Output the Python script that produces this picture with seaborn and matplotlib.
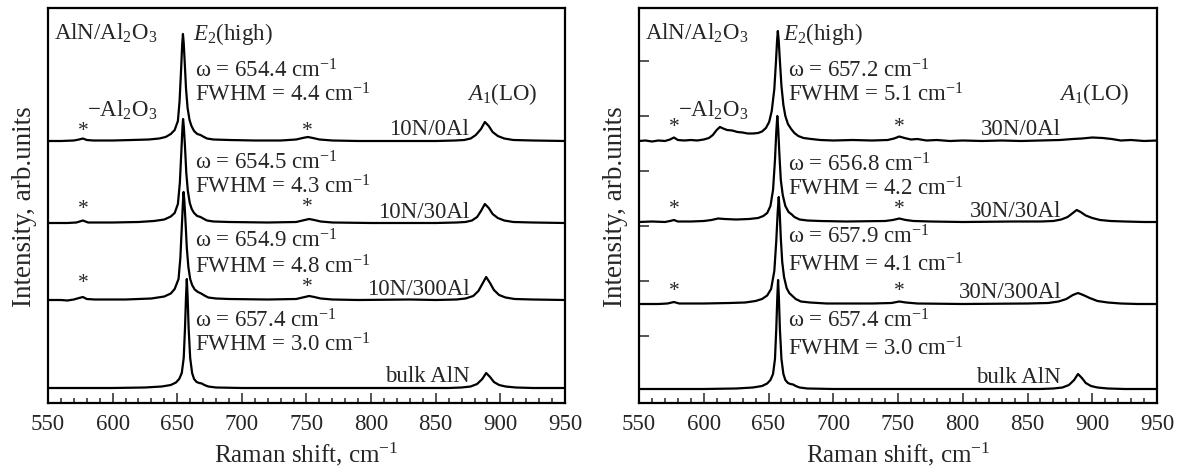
import matplotlib
matplotlib.use("Agg")
import matplotlib.pyplot as plt
import pandas as pd
import seaborn as sns
from matplotlib.ticker import MultipleLocator

# Raman spectra: (Raman shift cm^-1, intensity arb. units)
spec_10n_0al = [(550, 0), (560, 0), (570, 0.5), (574, 1.5), (577, 2.5), (580, 1), (585, 0.5),
                (600, 0.5), (615, 1), (628, 1.5), (636, 2.5), (641, 4), (645, 7), (648, 11),
                (650.5, 20), (651.8, 40), (653, 72), (653.8, 96), (654.4, 107), (655, 98),
                (655.8, 78), (656.8, 52), (658, 33), (659.5, 21), (661, 15), (663, 10),
                (665.5, 7), (668, 6), (670, 4.5), (673, 2.5), (678, 1.5), (690, 1), (710, 0.5),
                (730, 0.5), (742, 1.5), (747, 3), (751, 4), (755, 3), (760, 1.5), (770, 0.5),
                (790, 0), (820, 0), (850, 0), (865, 0.5), (872, 1), (877, 2.5), (881, 6),
                (885, 12), (888, 19), (891, 15), (894, 9), (898, 5), (903, 2.5), (910, 1),
                (925, 0.5), (950, 0)]
spec_10n_30al = [(550, 0), (565, 0), (572, 0.5), (577, 2.5), (581, 0.5), (600, 0.5), (620, 1),
                 (632, 2), (640, 3.5), (645, 6.5), (648, 10), (650.5, 19), (652, 40), (653.2, 72),
                 (654, 95), (654.5, 104), (655.1, 96), (656, 76), (657, 50), (658.2, 32),
                 (659.7, 20), (661.2, 14), (663, 10), (665.5, 7), (668, 6), (670, 4.5), (673, 2.5),
                 (678, 1.5), (690, 1), (720, 0.5), (742, 1), (747, 2.5), (752, 4), (756, 3),
                 (761, 1.5), (770, 0.5), (800, 0), (850, 0), (866, 0.5), (873, 1), (878, 2.5),
                 (882, 6), (885, 12), (888, 19), (891, 15), (894, 9), (898, 5), (903, 2.5),
                 (910, 1), (925, 0.5), (950, 0)]
spec_10n_300al = [(550, 0), (560, 0), (565, -0.5), (570, 0.5), (574, 2), (577, 3), (580, 1),
                  (586, 0.5), (610, 0.5), (630, 1.5), (640, 3.5), (645, 6.5), (648, 11), (651, 21),
                  (652.4, 42), (653.6, 75), (654.4, 98), (654.9, 108), (655.5, 99), (656.4, 78),
                  (657.4, 52), (658.6, 33), (660, 21), (661.5, 15), (663.5, 10.5), (666, 8),
                  (668.5, 6.5), (671, 4.5), (674, 2.5), (680, 1.5), (690, 1), (720, 0.5),
                  (742, 1), (747, 2.5), (752, 4), (756, 3), (761, 1.5), (770, 0.5), (790, 0),
                  (830, 0.5), (850, 0), (866, 0.5), (873, 1.5), (879, 4), (883, 9), (886, 16),
                  (889, 23), (892, 17), (895, 10), (899, 5), (904, 2.5), (911, 1), (925, 0.5),
                  (950, 0)]
spec_30n_0al = [(550, 0), (555, 0.5), (560, -0.5), (565, 0.5), (570, 0), (574, 1.5), (577, 3.5),
                (580, 1), (585, 0.5), (590, 1), (595, 0.5), (600, 1.5), (604, 3), (607, 6),
                (610, 11), (612.5, 14), (615, 12.5), (618, 11), (622, 10.5), (626, 9), (630, 8.5),
                (634, 7.5), (638, 7.5), (642, 8), (645, 9.5), (648, 13), (650.5, 19), (652.5, 30),
                (654.5, 52), (655.8, 80), (656.6, 100), (657.2, 110), (657.9, 100), (658.8, 80),
                (660, 55), (661.5, 36), (663, 25), (665, 17), (667.5, 12), (670, 8), (673, 5),
                (677, 3), (683, 2), (690, 1), (700, 0.5), (715, 1), (730, 0.5), (742, 1),
                (747, 2.5), (751, 4.5), (755, 3), (760, 1.5), (765, 2), (772, 0.5), (780, 1),
                (790, 0), (800, 0.5), (815, 0), (830, 0.5), (845, 0), (860, 0.5), (875, 1),
                (885, 2), (892, 2.5), (900, 3.5), (908, 3), (915, 2), (922, 0.5), (930, 1),
                (940, 0), (950, 0.5)]
spec_30n_30al = [(550, 0), (560, 0.5), (570, 0), (574, 1), (577, 2), (580, 0.5), (590, 0.5),
                 (600, 1), (606, 2), (611, 3.5), (616, 3), (625, 2.5), (635, 3), (642, 4),
                 (646, 6), (649, 9), (651.5, 16), (653.5, 32), (655, 62), (656, 90), (656.8, 106),
                 (657.5, 93), (658.4, 68), (659.5, 42), (661, 27), (663, 16), (665.5, 10),
                 (668, 7.5), (670, 5), (674, 2.5), (680, 1.5), (690, 1), (710, 0.5), (740, 1),
                 (746, 2), (751, 3.5), (756, 2), (762, 1), (775, 0.5), (800, 0), (840, 0.5),
                 (860, 0.5), (870, 1), (876, 2.5), (881, 5), (885, 9), (888, 12), (891, 10),
                 (895, 6.5), (900, 4), (906, 2), (914, 1), (925, 0.5), (940, 0), (950, 0)]
spec_30n_300al = [(550, 0), (565, 0), (572, 0.5), (577, 2), (581, 0.5), (600, 0.5), (620, 1),
                  (632, 1.5), (640, 3), (645, 5), (649, 8.5), (652, 15), (654.5, 33), (656, 63),
                  (657.1, 92), (657.9, 107), (658.6, 93), (659.5, 66), (660.6, 42), (662, 27),
                  (664, 16), (666, 11), (668.5, 8), (671, 5), (675, 2.5), (682, 1.5), (695, 0.5),
                  (730, 0.5), (745, 1), (751, 2.5), (756, 1.5), (765, 0.5), (800, 0), (850, 0.5),
                  (866, 1), (874, 2.5), (880, 5), (885, 9), (889, 11), (893, 9), (898, 6),
                  (904, 3), (912, 1.5), (922, 0.5), (935, 0), (950, 0)]
bulk_aln = [(550, 0), (600, 0), (625, 0.5), (638, 1.5), (645, 3), (649, 5.5), (651.5, 9),
            (653.5, 15), (655, 30), (656, 60), (656.8, 92), (657.4, 109), (658, 92), (658.8, 60),
            (660, 30), (661.5, 15), (663, 9), (665, 6), (667, 5), (669, 4.5), (671, 3),
            (674, 1.5), (680, 0.5), (700, 0), (860, 0), (870, 0.5), (877, 1.5), (882, 4),
            (886, 9), (889, 15), (892, 11), (895, 6), (899, 3), (904, 1.5), (912, 0.5),
            (925, 0), (950, 0)]

samples_left = ["10N/0Al", "10N/30Al", "10N/300Al", "bulk AlN"]
samples_right = ["30N/0Al", "30N/30Al", "30N/300Al", "bulk AlN"]
omega_left = ["654.4", "654.5", "654.9", "657.4"]
fwhm_left = ["4.4", "4.3", "4.8", "3.0"]
omega_right = ["657.2", "656.8", "657.9", "657.4"]
fwhm_right = ["5.1", "4.2", "4.1", "3.0"]

spectra_left = [spec_10n_0al, spec_10n_30al, spec_10n_300al, bulk_aln]
spectra_right = [spec_30n_0al, spec_30n_30al, spec_30n_300al, bulk_aln]

# vertical stacking (offset of each trace) and label positions
offsets = {"left": [262, 180, 103, 15], "right": [262, 181, 99, 14]}
omega_y = {"left": [326, 235, 156, 76], "right": [327, 232, 161, 76]}
fwhm_y = {"left": [303, 211, 131, 52], "right": [303, 208, 132, 48]}
name_y = {"left": [269, 186, 109, 22], "right": [269, 187, 106, 21]}
star_y = {"left": [(272, 272), (194, 196), (121, 117), None],
          "right": [(276, 276), (194, 194), (112, 112), None]}

sns.set_theme(style="ticks")
plt.rcParams["font.family"] = ["Liberation Serif", "DejaVu Serif"]
plt.rcParams["mathtext.fontset"] = "custom"
plt.rcParams["mathtext.rm"] = "Liberation Serif"
plt.rcParams["mathtext.it"] = "Liberation Serif:italic"
plt.rcParams["mathtext.bf"] = "Liberation Serif:bold"

fig = plt.figure(figsize=(11.8, 4.77), dpi=100)
ax_l = fig.add_axes([48 / 1180, 73 / 477, 517 / 1180, 395 / 477])
ax_r = fig.add_axes([639 / 1180, 73 / 477, 518 / 1180, 395 / 477])

FS = 16.5


def draw_panel(ax, key, spectra, names, omegas, fwhms, omega_x, e2_x):
    for spec, name, off in zip(spectra, names, offsets[key]):
        df = pd.DataFrame(spec, columns=["shift", "intensity"])
        df["signal"] = df["intensity"] + off
        sns.lineplot(data=df, x="shift", y="signal", ax=ax, color="black",
                     lw=1.6, estimator=None, sort=False)

    ax.text(555, 364, "AlN/Al$_2$O$_3$", fontsize=FS, va="baseline")
    ax.text(e2_x, 364, "$E_2$(high)", fontsize=FS, va="baseline")
    ax.text(580, 287, "\u2212Al$_2$O$_3$", fontsize=FS, va="baseline")
    ax.text(874, 304, "$A_1$(LO)", fontsize=FS, va="baseline")

    for i in range(4):
        ax.text(omega_x, omega_y[key][i], "\u03c9 = " + omegas[i] + " cm$^{-1}$",
                fontsize=FS, va="baseline")
        ax.text(omega_x, fwhm_y[key][i], "FWHM = " + fwhms[i] + " cm$^{-1}$",
                fontsize=FS, va="baseline")
        ax.text(876, name_y[key][i], names[i], fontsize=FS, va="baseline", ha="right")
        if star_y[key][i] is not None:
            ax.text(577, star_y[key][i][0], "*", fontsize=FS - 1, ha="center", va="center")
            ax.text(751, star_y[key][i][1], "*", fontsize=FS - 1, ha="center", va="center")

    ax.set_xlim(550, 950)
    ax.set_ylim(0, 395)
    ax.xaxis.set_major_locator(MultipleLocator(50))
    ax.xaxis.set_minor_locator(MultipleLocator(10))
    ax.tick_params(axis="x", which="major", direction="in", length=7, width=1.1,
                   labelsize=16.5, pad=7, top=False)
    ax.tick_params(axis="x", which="minor", direction="in", length=3.5, width=1.1, top=False)
    ax.set_xlabel("Raman shift, cm$^{-1}$", fontsize=18, labelpad=4)
    ax.set_ylabel("Intensity, arb.units", fontsize=19.5, labelpad=8)
    for sp in ax.spines.values():
        sp.set_visible(True)
        sp.set_linewidth(1.6)
        sp.set_color("black")


draw_panel(ax_l, "left", spectra_left, samples_left, omega_left, fwhm_left, 663.7, 662)
draw_panel(ax_r, "right", spectra_right, samples_right, omega_right, fwhm_right, 665, 661.5)

ax_l.set_yticks([])
ax_r.set_yticks([67, 122, 177, 232, 287, 342])
ax_r.tick_params(axis="y", direction="in", length=7, width=1.1, labelleft=False)

fig.savefig("out.png", dpi=100)
